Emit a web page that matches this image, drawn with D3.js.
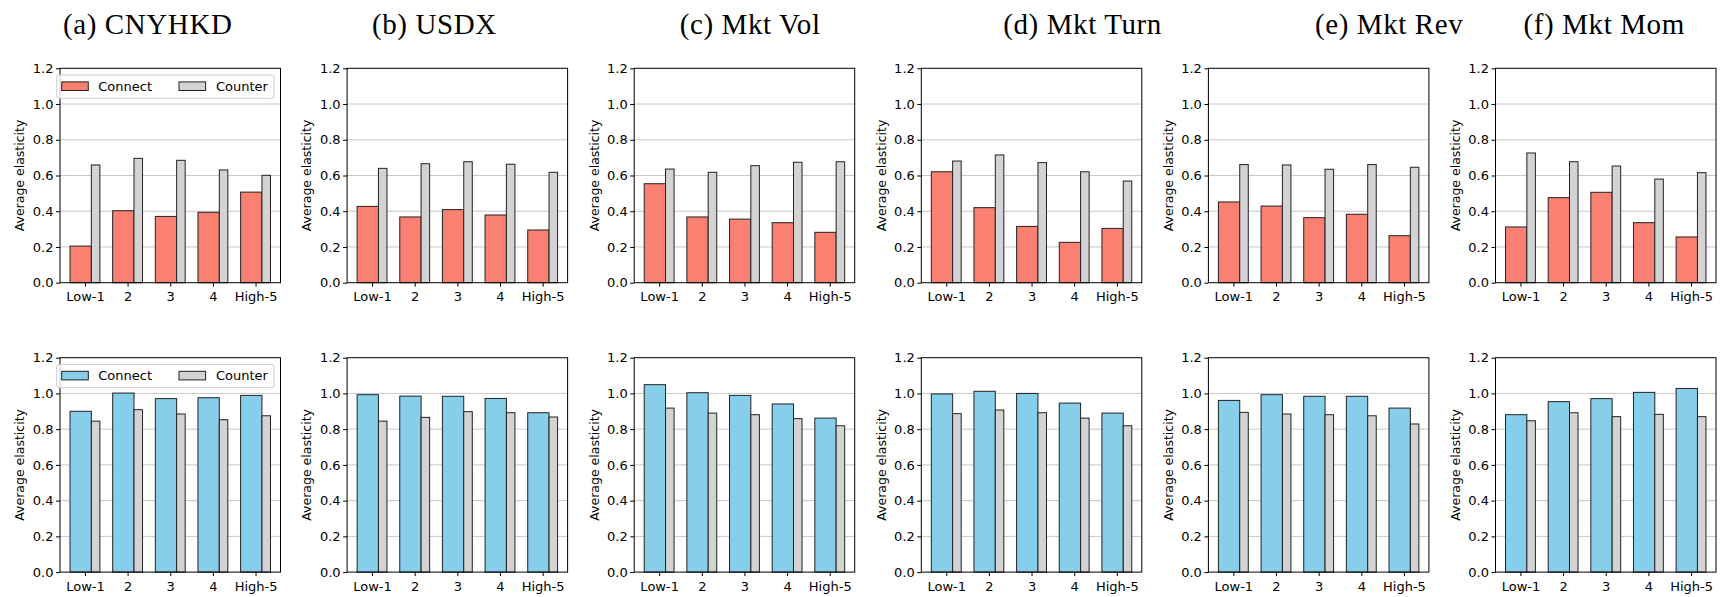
<!DOCTYPE html>
<html>
<head>
<meta charset="utf-8">
<script src="https://cdn.jsdelivr.net/npm/d3@7"></script>
<style>
  body { margin: 0; background: #fff; }
  .tick text { font-family: "DejaVu Sans", sans-serif; font-size: 13px; fill: #000; }
  .tick line { stroke: #000; }
</style>
</head>
<body>
<div id="chart"></div>
<script>
// categories and panel names
var categories = ["Low-1", "2", "3", "4", "High-5"];
var panelTitles = ["(a) CNYHKD", "(b) USDX", "(c) Mkt Vol", "(d) Mkt Turn", "(e) Mkt Rev", "(f) Mkt Mom"];
var yTicks = [0.0, 0.2, 0.4, 0.6, 0.8, 1.0, 1.2];
var seriesNames = ["Connect", "Counter"];

// top row, one array per panel
var topConnect = [
  [0.205, 0.403, 0.371, 0.394, 0.507],
  [0.427, 0.368, 0.409, 0.379, 0.295],
  [0.554, 0.368, 0.356, 0.336, 0.282],
  [0.621, 0.420, 0.315, 0.226, 0.304],
  [0.452, 0.429, 0.364, 0.383, 0.263],
  [0.312, 0.476, 0.506, 0.336, 0.256]
];
var topCounter = [
  [0.659, 0.696, 0.685, 0.631, 0.601],
  [0.640, 0.666, 0.677, 0.663, 0.618],
  [0.636, 0.618, 0.655, 0.674, 0.677],
  [0.681, 0.715, 0.672, 0.621, 0.569],
  [0.661, 0.659, 0.635, 0.661, 0.646],
  [0.726, 0.677, 0.653, 0.580, 0.616]
];

// bottom row
var bottomConnect = [
  [0.900, 1.002, 0.971, 0.976, 0.989],
  [0.993, 0.985, 0.984, 0.972, 0.892],
  [1.049, 1.004, 0.989, 0.941, 0.862],
  [0.997, 1.012, 1.000, 0.946, 0.890],
  [0.961, 0.993, 0.984, 0.984, 0.918],
  [0.881, 0.954, 0.971, 1.006, 1.028]
];
var bottomCounter = [
  [0.845, 0.909, 0.885, 0.853, 0.875],
  [0.845, 0.866, 0.898, 0.892, 0.868],
  [0.918, 0.890, 0.881, 0.859, 0.819],
  [0.887, 0.907, 0.892, 0.862, 0.819],
  [0.894, 0.885, 0.881, 0.875, 0.829],
  [0.847, 0.892, 0.870, 0.883, 0.870]
];

var svgWidth = 1723;
var svgHeight = 597;

// layout of the 2 x 6 grid
var left0 = 60, step = 287.1, axW = 220.5, axH = 214.4;
var rowTop = [68.3, 357.7];
var titleShift = [-22.5, -23, 5.7, 51, 70.5, -1.5];

var svg = d3.select("#chart")
  .append("svg")
  .attr("width", svgWidth)
  .attr("height", svgHeight);

var x = d3.scaleLinear().domain([-0.585, 4.585]).range([0, axW]);
var y = d3.scaleLinear().domain([0, 1.2]).range([axH, 0]);

function drawPanel(row, p, connect, counter, connectColor) {
  var g = svg.append("g")
    .attr("transform", `translate(${left0 + p * step}, ${rowTop[row]})`);

  // horizontal grid
  g.selectAll("line.grid")
    .data(yTicks.filter(d => d > 0 && d < 1.2))
    .enter()
    .append("line")
    .attr("class", "grid")
    .attr("x1", 0)
    .attr("x2", axW)
    .attr("y1", d => y(d))
    .attr("y2", d => y(d))
    .attr("stroke", "#c8c8c8")
    .attr("stroke-width", 1);

  // connect bars
  g.selectAll("rect.connect")
    .data(connect)
    .enter()
    .append("rect")
    .attr("class", "connect")
    .attr("x", (d, i) => x(i - 0.35))
    .attr("width", x(0.15) - x(-0.35))
    .attr("y", d => y(d))
    .attr("height", d => y(0) - y(d))
    .attr("fill", connectColor)
    .attr("stroke", "#222")
    .attr("stroke-width", 1);

  // counter bars
  g.selectAll("rect.counter")
    .data(counter)
    .enter()
    .append("rect")
    .attr("class", "counter")
    .attr("x", (d, i) => x(i + 0.15))
    .attr("width", x(0.35) - x(0.15))
    .attr("y", d => y(d))
    .attr("height", d => y(0) - y(d))
    .attr("fill", "#d3d3d3")
    .attr("stroke", "#222")
    .attr("stroke-width", 1);

  var bottomAxis = d3.axisBottom(x)
    .tickValues(d3.range(categories.length))
    .tickFormat(i => categories[i])
    .tickSize(4)
    .tickPadding(5.5);
  var leftAxis = d3.axisLeft(y)
    .tickValues(yTicks)
    .tickFormat(d3.format(".1f"))
    .tickSize(4)
    .tickPadding(2.5);

  g.append("g")
    .attr("transform", `translate(0, ${axH})`)
    .call(bottomAxis)
    .call(a => a.select(".domain").remove());
  g.append("g")
    .call(leftAxis)
    .call(a => a.select(".domain").remove());

  // frame
  g.append("rect")
    .attr("width", axW)
    .attr("height", axH)
    .attr("fill", "none")
    .attr("stroke", "#000")
    .attr("stroke-width", 1);

  g.append("text")
    .attr("transform", `translate(-40, ${axH / 2}) rotate(-90)`)
    .attr("text-anchor", "middle")
    .attr("dy", "0.35em")
    .style("font-family", "DejaVu Sans, sans-serif")
    .style("font-size", "12.5px")
    .text("Average elasticity");

  // legend only in first column
  if (p === 0) {
    var lg = g.append("g").attr("transform", "translate(-3.3, 6.7)");
    lg.append("rect")
      .attr("width", 217.3)
      .attr("height", 23.3)
      .attr("rx", 2.5)
      .attr("fill", "#fff")
      .attr("fill-opacity", 0.8)
      .attr("stroke", "#cccccc");
    var items = [
      {name: seriesNames[0], color: connectColor, px: 5, tx: 41.6},
      {name: seriesNames[1], color: "#d3d3d3", px: 122.3, tx: 159.3}
    ];
    items.forEach(function(it) {
      lg.append("rect")
        .attr("x", it.px)
        .attr("y", 6.9)
        .attr("width", 26.6)
        .attr("height", 8.6)
        .attr("fill", it.color)
        .attr("stroke", "#222")
        .attr("stroke-width", 1);
      lg.append("text")
        .attr("x", it.tx)
        .attr("y", 11.4)
        .attr("dy", "0.35em")
        .style("font-family", "DejaVu Sans, sans-serif")
        .style("font-size", "13px")
        .text(it.name);
    });
  }

  if (row === 0) {
    svg.append("text")
      .attr("x", left0 + p * step + axW / 2 + titleShift[p])
      .attr("y", 34)
      .attr("text-anchor", "middle")
      .style("font-family", "Liberation Serif, serif")
      .style("font-size", "29px")
      .style("letter-spacing", "0.6px")
      .text(panelTitles[p]);
  }
}

panelTitles.forEach(function(t, p) {
  drawPanel(0, p, topConnect[p], topCounter[p], "#fa8072");
  drawPanel(1, p, bottomConnect[p], bottomCounter[p], "#87ceeb");
});
</script>
</body>
</html>
